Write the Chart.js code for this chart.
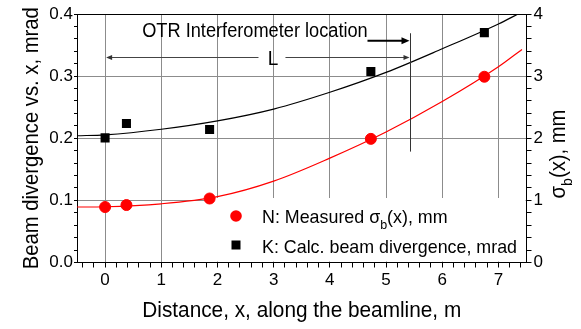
<!DOCTYPE html>
<html>
<head>
<meta charset="utf-8">
<script src="https://cdn.jsdelivr.net/npm/chart.js@4"></script>
<style>
  html, body { margin: 0; padding: 0; background: #fff; }
  canvas { display: block; }
</style>
</head>
<body>
<canvas id="beamChart" width="581" height="329"></canvas>
<script>
// données
const distanceMeasured = [0, 0.38, 1.86, 4.73, 6.75];
const sigmaMeasured = [0.893, 0.925, 1.03, 1.99, 2.99];        // mm, axe de droite
const divergenceCalc = [0.2006, 0.2237, 0.214, 0.3076, 0.370];  // mrad, axe de gauche

const sigmaFitX = [-0.5, 0, 1, 2, 3, 4, 5, 6, 7, 7.42];
const sigmaFitY = [0.893, 0.897, 0.945, 1.06, 1.31, 1.68, 2.10, 2.59, 3.15, 3.43];
const divFitX = [-0.5, 0, 1, 2, 3, 4, 5, 6, 7, 7.35];
const divFitY = [0.204, 0.2055, 0.2145, 0.228, 0.247, 0.274, 0.306, 0.344, 0.384, 0.4];

const xMajorTicks = [0, 1, 2, 3, 4, 5, 6, 7];
const leftMajorTicks = [0, 0.1, 0.2, 0.3, 0.4];
const rightMajorTicks = [0, 1, 2, 3, 4];

const otrLocation = 5.42; // m

const FONT = '"Liberation Sans", Arial, sans-serif';

function pairs(xs, ys) {
  return xs.map((x, i) => ({ x: x, y: ys[i] }));
}

function isMajor(v, list) {
  return list.some(m => Math.abs(m - v) < 1e-6);
}

function makeTicks(from, to, step) {
  const out = [];
  const n = Math.round((to - from) / step);
  for (let i = 0; i <= n; i++) out.push({ value: +(from + i * step).toFixed(6) });
  return out;
}

// texte compressé horizontalement, segments avec indice éventuel
function segWidth(ctx, segs, size) {
  let w = 0;
  segs.forEach(s => {
    ctx.font = (s.sub ? size * 0.7 : size) + 'px ' + FONT;
    w += ctx.measureText(s.t).width;
  });
  return w;
}

function drawSegs(ctx, segs, size) {
  let x = 0;
  segs.forEach(s => {
    ctx.font = (s.sub ? size * 0.7 : size) + 'px ' + FONT;
    ctx.fillText(s.t, x, s.sub ? size * 0.3 : 0);
    x += ctx.measureText(s.t).width;
  });
}

function drawLabel(ctx, segs, opts) {
  ctx.save();
  ctx.translate(opts.x, opts.y);
  if (opts.rotate) ctx.rotate(opts.rotate);
  ctx.scale(opts.sx, 1);
  ctx.fillStyle = '#000';
  ctx.textBaseline = 'alphabetic';
  ctx.textAlign = 'left';
  const w = segWidth(ctx, segs, opts.size);
  if (opts.align === 'center') ctx.translate(-w / 2, 0);
  drawSegs(ctx, segs, opts.size);
  ctx.restore();
}

function arrowHead(ctx, x, y, dir, len, half) {
  ctx.beginPath();
  ctx.moveTo(x, y);
  ctx.lineTo(x - dir * len, y - half);
  ctx.lineTo(x - dir * len, y + half);
  ctx.closePath();
  ctx.fill();
}

const decorPlugin = {
  id: 'decor',
  beforeDatasetsDraw(chart) {
    const { ctx, chartArea } = chart;
    // fond blanc de la légende
    ctx.save();
    ctx.fillStyle = '#fff';
    ctx.fillRect(207, 198, chartArea.right - 207 - 1, chartArea.bottom - 198 - 1);
    ctx.restore();
  },
  afterDatasetsDraw(chart) {
    const { ctx, chartArea, scales } = chart;
    const xs = scales.x, ys = scales.y;

    // cadre supérieur
    ctx.save();
    ctx.strokeStyle = '#000';
    ctx.lineWidth = 1;
    ctx.beginPath();
    ctx.moveTo(chartArea.left, chartArea.top + 0.5);
    ctx.lineTo(chartArea.right, chartArea.top + 0.5);
    ctx.stroke();

    // position de l'interféromètre
    const xo = Math.round(xs.getPixelForValue(otrLocation)) + 0.5;
    ctx.strokeStyle = '#333';
    ctx.beginPath();
    ctx.moveTo(xo, ys.getPixelForValue(0.369));
    ctx.lineTo(xo, ys.getPixelForValue(0.1785));
    ctx.stroke();

    // flèche épaisse sous le texte
    const ya = ys.getPixelForValue(0.357);
    ctx.strokeStyle = '#000';
    ctx.fillStyle = '#000';
    ctx.lineWidth = 2;
    ctx.beginPath();
    ctx.moveTo(xs.getPixelForValue(4.67), ya);
    ctx.lineTo(xo - 6, ya);
    ctx.stroke();
    arrowHead(ctx, xo - 1, ya, 1, 8, 3.5);

    // cote L
    const yl = Math.round(ys.getPixelForValue(0.3315)) + 0.5;
    const x0 = xs.getPixelForValue(0) + 1;
    ctx.strokeStyle = '#444';
    ctx.fillStyle = '#333';
    ctx.lineWidth = 1;
    ctx.beginPath();
    ctx.moveTo(x0 + 4, yl);
    ctx.lineTo(xs.getPixelForValue(2.73), yl);
    ctx.moveTo(xs.getPixelForValue(3.21), yl);
    ctx.lineTo(xo - 5, yl);
    ctx.stroke();
    arrowHead(ctx, x0, yl, -1, 6, 2.5);
    arrowHead(ctx, xo - 1, yl, 1, 6, 2.5);
    ctx.restore();

    drawLabel(ctx, [{ t: 'L' }], { x: xs.getPixelForValue(2.99), y: yl + 7, size: 20, sx: 0.95, align: 'center' });
    drawLabel(ctx, [{ t: 'OTR Interferometer location' }],
      { x: xs.getPixelForValue(0.66), y: ys.getPixelForValue(0.3635), size: 20, sx: 0.91 });

    // légende
    ctx.save();
    ctx.fillStyle = '#ff0000';
    ctx.beginPath();
    ctx.arc(236, 216, 5.8, 0, Math.PI * 2);
    ctx.fill();
    ctx.fillStyle = '#000';
    ctx.fillRect(231.5, 240.5, 9, 9);
    ctx.restore();
    drawLabel(ctx, [{ t: 'N: Measured σ' }, { t: 'b', sub: true }, { t: '(x), mm' }],
      { x: 262, y: 223, size: 18.5, sx: 0.965 });
    drawLabel(ctx, [{ t: 'K: Calc. beam divergence, mrad' }],
      { x: 262, y: 252.5, size: 18.5, sx: 0.965 });

    // titres des axes
    const cx = (chartArea.left + chartArea.right) / 2;
    const cy = (chartArea.top + chartArea.bottom) / 2;
    drawLabel(ctx, [{ t: 'Distance, x, along the beamline, m' }],
      { x: cx, y: 316.5, size: 22, sx: 0.945, align: 'center' });
    drawLabel(ctx, [{ t: 'Beam divergence vs. x, mrad' }],
      { x: 38, y: cy, size: 22, sx: 0.92, align: 'center', rotate: -Math.PI / 2 });
    drawLabel(ctx, [{ t: 'σ' }, { t: 'b', sub: true }, { t: '(x), mm' }],
      { x: 565, y: 154, size: 22, sx: 0.92, align: 'center', rotate: -Math.PI / 2 });
  }
};

const ctx = document.getElementById('beamChart');
new Chart(ctx, {
  type: 'scatter',
  data: {
    datasets: [
      {
        label: 'N: Measured σb(x), mm',
        data: pairs(distanceMeasured, sigmaMeasured),
        yAxisID: 'y2',
        backgroundColor: '#ff0000',
        borderColor: '#ff0000',
        pointStyle: 'circle',
        pointRadius: 5.5,
        order: 0
      },
      {
        label: 'K: Calc. beam divergence, mrad',
        data: pairs(distanceMeasured, divergenceCalc),
        yAxisID: 'y',
        backgroundColor: '#000',
        borderColor: '#000',
        pointStyle: 'rect',
        pointRadius: 6.4,
        borderWidth: 0,
        order: 1
      },
      {
        type: 'line',
        label: 'fit sigma',
        data: pairs(sigmaFitX, sigmaFitY),
        yAxisID: 'y2',
        borderColor: '#ff0000',
        borderWidth: 1.2,
        pointRadius: 0,
        cubicInterpolationMode: 'monotone',
        fill: false,
        order: 2
      },
      {
        type: 'line',
        label: 'fit divergence',
        data: pairs(divFitX, divFitY),
        yAxisID: 'y',
        borderColor: '#000',
        borderWidth: 1.2,
        pointRadius: 0,
        cubicInterpolationMode: 'monotone',
        fill: false,
        order: 3
      }
    ]
  },
  options: {
    responsive: false,
    animation: false,
    devicePixelRatio: 1,
    layout: { padding: { top: 14, left: 0, right: 0, bottom: 0 } },
    plugins: { legend: { display: false }, tooltip: { enabled: false } },
    scales: {
      x: {
        type: 'linear',
        position: 'bottom',
        min: -0.5,
        max: 7.5,
        afterBuildTicks: s => { s.ticks = makeTicks(-0.4, 7.4, 0.2); },
        afterFit: s => { s.height = 66.5; },
        border: { color: '#000', width: 1 },
        grid: {
          color: c => (c.tick && isMajor(c.tick.value, xMajorTicks)) ? '#8c8c8c' : 'rgba(0,0,0,0)',
          tickColor: '#000',
          tickLength: 5,
          lineWidth: 1
        },
        ticks: {
          autoSkip: false,
          maxRotation: 0,
          padding: 3,
          color: '#000',
          font: { family: FONT, size: 17 },
          callback: v => isMajor(v, xMajorTicks) ? String(Math.round(v)) : ''
        }
      },
      y: {
        type: 'linear',
        position: 'left',
        min: 0,
        max: 0.4,
        afterBuildTicks: s => { s.ticks = makeTicks(0, 0.4, 0.02); },
        afterFit: s => { s.width = 77; },
        border: { color: '#000', width: 1 },
        grid: {
          color: c => (c.tick && isMajor(c.tick.value, [0.1, 0.2, 0.3])) ? '#8c8c8c' : 'rgba(0,0,0,0)',
          tickColor: '#000',
          tickLength: 3,
          lineWidth: 1
        },
        ticks: {
          autoSkip: false,
          padding: 1,
          color: '#000',
          font: { family: FONT, size: 17 },
          callback: v => isMajor(v, leftMajorTicks) ? v.toFixed(1) : ''
        }
      },
      y2: {
        type: 'linear',
        position: 'right',
        min: 0,
        max: 4,
        afterBuildTicks: s => { s.ticks = makeTicks(0, 4, 0.2); },
        afterFit: s => { s.width = 54.5; },
        border: { color: '#000', width: 1 },
        grid: {
          drawOnChartArea: false,
          tickColor: '#000',
          tickLength: 5,
          lineWidth: 1
        },
        ticks: {
          autoSkip: false,
          padding: 2,
          color: '#000',
          font: { family: FONT, size: 17 },
          callback: v => isMajor(v, rightMajorTicks) ? String(Math.round(v)) : ''
        }
      }
    }
  },
  plugins: [decorPlugin]
});
</script>
</body>
</html>
